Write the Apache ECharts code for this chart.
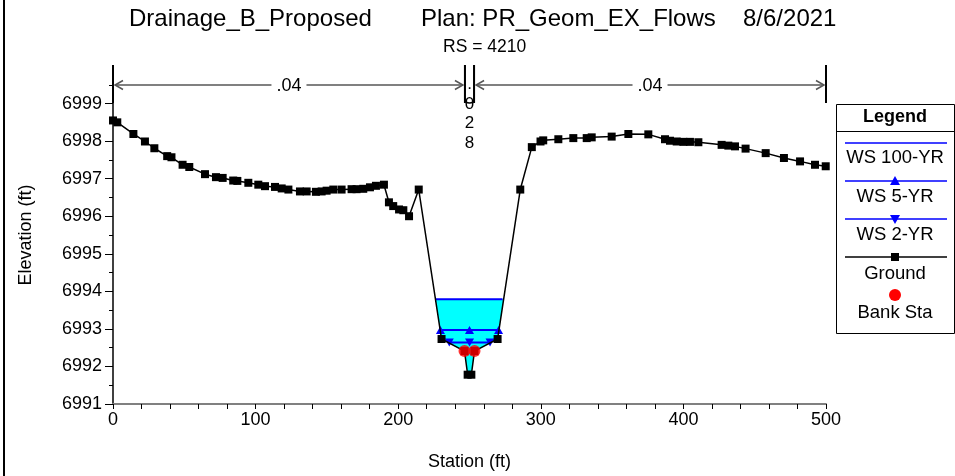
<!DOCTYPE html>
<html>
<head>
<meta charset="utf-8">
<script src="https://cdn.jsdelivr.net/npm/echarts@6/dist/echarts.min.js"></script>
<style>
  html, body { margin: 0; padding: 0; background: #fff; }
  #chart { width: 955px; height: 476px; }
</style>
</head>
<body>
<div id="chart"></div>
<script>
(function () {
  'use strict';

  var FONT = "'Liberation Sans', Arial, sans-serif";

  // ── Data ─────────────────────────────────────────────────────────────────
  var groundSt = [0, 3, 14.3, 22.4, 29, 38, 41, 48.8, 53.5, 64.5, 72.2, 76.9, 84.3, 87.2, 94.9,
    101.9, 106.6, 113.6, 118.3, 123, 131.1, 135.8, 142.3, 146.3, 149.8, 154.5, 160.3, 167.3,
    170.8, 175.5, 180.2, 184.4, 190, 193.5, 196.5, 200.6, 203.6, 207.6, 214.4, 230.4, 246.5,
    248.7, 251.3, 253.5, 269.7, 285.6, 293.7, 299.8, 301.7, 312.3, 322.8, 332.2, 335.7, 349.7,
    361.4, 375.4, 387.1, 390.6, 395.3, 400, 404.6, 410.5, 426.8, 431.5, 436.2, 443.6, 457.7,
    470.5, 481.8, 492.3, 499.8];
  var groundEl = [6998.55, 6998.50, 6998.19, 6997.99, 6997.81, 6997.60, 6997.57, 6997.37, 6997.31,
    6997.12, 6997.04, 6997.02, 6996.95, 6996.94, 6996.89, 6996.84, 6996.80, 6996.78, 6996.74,
    6996.71, 6996.66, 6996.66, 6996.65, 6996.66, 6996.68, 6996.71, 6996.71, 6996.72, 6996.72,
    6996.73, 6996.77, 6996.81, 6996.84, 6996.37, 6996.27, 6996.18, 6996.16, 6996.00, 6996.71,
    6992.73, 6992.41, 6991.78, 6991.78, 6992.41, 6992.73, 6996.71, 6997.84, 6997.99, 6998.02,
    6998.05, 6998.08, 6998.08, 6998.10, 6998.12, 6998.19, 6998.18, 6998.05, 6998.01, 6997.99,
    6997.98, 6997.98, 6997.97, 6997.90, 6997.88, 6997.86, 6997.80, 6997.68, 6997.55, 6997.46,
    6997.37, 6997.33];

  var ws100St = [226.5, 273.2];
  var ws100El = 6993.79;
  var ws5St = [229.6, 250.0, 270.4];
  var ws5El = 6992.97;
  var ws2St = [235.8, 250.0, 264.4];
  var ws2El = 6992.64;

  var bankSt = [246.5, 253.5];
  var bankEl = [6992.41, 6992.41];

  // Manning's n regions
  var nStart = [0, 246.8, 253.2];
  var nEnd = [246.8, 253.2, 500];
  var nLabels = ['.04', '.028', '.04'];

  var xTickLabels = [0, 100, 200, 300, 400, 500];
  var yTickLabels = [6991, 6992, 6993, 6994, 6995, 6996, 6997, 6998, 6999];

  var titleParts = ['Drainage_B_Proposed', 'Plan: PR_Geom_EX_Flows', '8/6/2021'];
  var subTitle = 'RS = 4210';

  var legendNames = ['WS 100-YR', 'WS 5-YR', 'WS 2-YR', 'Ground', 'Bank Sta'];

  var Y_MIN = 6991, Y_MAX = 7000;

  // ── Helpers ──────────────────────────────────────────────────────────────
  function zip(xs, ys) {
    return xs.map(function (x, i) { return [x, Array.isArray(ys) ? ys[i] : ys]; });
  }

  // ground below a water level -> polygon (in data units)
  function waterPolygon(level) {
    var pts = [];
    for (var i = 0; i < groundSt.length; i++) {
      var below = groundEl[i] < level;
      if (i > 0) {
        var prevBelow = groundEl[i - 1] < level;
        if (below !== prevBelow) {
          var t = (level - groundEl[i - 1]) / (groundEl[i] - groundEl[i - 1]);
          pts.push([groundSt[i - 1] + t * (groundSt[i] - groundSt[i - 1]), level]);
        }
      }
      if (below) pts.push([groundSt[i], groundEl[i]]);
    }
    return pts;
  }

  var waterPoly = waterPolygon(ws100El);

  // ── Legend (HEC-RAS style box) ───────────────────────────────────────────
  function buildLegend() {
    var L = 836, T = 104, W = 118, H = 229;
    var cx = L + W / 2, x1 = L + 9, x2 = L + W - 7;
    var els = [
      { type: 'rect', shape: { x: L + 0.5, y: T + 0.5, width: W, height: H },
        style: { fill: '#fff', stroke: '#000', lineWidth: 1 } },
      { type: 'text', x: cx, y: T + 13, style: { text: 'Legend', font: 'bold 18px ' + FONT,
        fill: '#000', align: 'center', verticalAlign: 'middle' } },
      { type: 'line', shape: { x1: L, y1: T + 27.5, x2: L + W, y2: T + 27.5 },
        style: { stroke: '#000', lineWidth: 1 } }
    ];
    var lineY = [143, 181, 219, 257, 295];
    var textY = [158, 197, 235, 274, 313];
    var colors = ['#0000ff', '#0000ff', '#0000ff', '#000', null];
    legendNames.forEach(function (name, i) {
      if (colors[i]) {
        els.push({ type: 'line', shape: { x1: x1, y1: lineY[i], x2: x2, y2: lineY[i] },
          style: { stroke: colors[i], lineWidth: 1.5 } });
      }
      if (i === 1) {
        els.push({ type: 'polygon', shape: { points: [[cx, lineY[i] - 5], [cx - 5, lineY[i] + 4], [cx + 5, lineY[i] + 4]] },
          style: { fill: '#0000ff' } });
      } else if (i === 2) {
        els.push({ type: 'polygon', shape: { points: [[cx, lineY[i] + 5], [cx - 5, lineY[i] - 4], [cx + 5, lineY[i] - 4]] },
          style: { fill: '#0000ff' } });
      } else if (i === 3) {
        els.push({ type: 'rect', shape: { x: cx - 4, y: lineY[i] - 4, width: 8, height: 8 },
          style: { fill: '#000' } });
      } else if (i === 4) {
        els.push({ type: 'circle', shape: { cx: cx, cy: lineY[i], r: 6 }, style: { fill: '#ff0000' } });
      }
      els.push({ type: 'text', x: cx, y: textY[i], style: { text: name, font: '18.5px ' + FONT,
        fill: '#000', align: 'center', verticalAlign: 'middle' } });
    });
    return els;
  }

  // ── Manning's n annotations ──────────────────────────────────────────────
  function renderNRegion(params, api) {
    var xa = api.coord([api.value(0), Y_MAX])[0];
    var xb = api.coord([api.value(1), Y_MAX])[0];
    var top = params.coordSys.y - 1;
    var label = nLabels[api.value(2)];
    var children = [];
    var bot = top + 38;
    if (xb - xa < 30) {
      var mid = (xa + xb) / 2;
      children.push({ type: 'path', shape: {
        pathData: 'M' + xa + ' ' + top + 'L' + xa + ' ' + (bot - 5) + 'Q' + xa + ' ' + bot + ' ' + mid + ' ' + bot +
          'Q' + xb + ' ' + bot + ' ' + xb + ' ' + (bot - 5) + 'L' + xb + ' ' + top },
        style: { stroke: '#000', lineWidth: 1.5, fill: null } });
      children.push({ type: 'text', x: mid, y: top + 10, style: { text: label.split('').join('\n'),
        font: '17px ' + FONT, lineHeight: 19.5, fill: '#000', align: 'center', verticalAlign: 'top' } });
    } else {
      var ly = top + 20;
      children.push({ type: 'line', shape: { x1: xa, y1: top, x2: xa, y2: bot },
        style: { stroke: '#000', lineWidth: 2 } });
      children.push({ type: 'line', shape: { x1: xb, y1: top, x2: xb, y2: bot },
        style: { stroke: '#000', lineWidth: 2 } });
      children.push({ type: 'line', shape: { x1: xa + 2, y1: ly, x2: xb - 2, y2: ly },
        style: { stroke: '#808080', lineWidth: 2 } });
      children.push({ type: 'polyline', shape: { points: [[xa + 10, ly - 4.5], [xa + 2, ly], [xa + 10, ly + 4.5]] },
        style: { stroke: '#555', lineWidth: 1.5, fill: null } });
      children.push({ type: 'polyline', shape: { points: [[xb - 10, ly - 4.5], [xb - 2, ly], [xb - 10, ly + 4.5]] },
        style: { stroke: '#555', lineWidth: 1.5, fill: null } });
      children.push({ type: 'text', x: (xa + xb) / 2, y: ly + 1, style: { text: label, font: '18px ' + FONT,
        fill: '#000', align: 'center', verticalAlign: 'middle', backgroundColor: '#fff', padding: [0, 5] } });
    }
    return { type: 'group', children: children };
  }

  // ── Chart ────────────────────────────────────────────────────────────────
  var chart = echarts.init(document.getElementById('chart'), null, { renderer: 'canvas' });

  var titleStyle = { fontFamily: FONT, fontSize: 24, fontWeight: 'normal', color: '#000' };
  var titleLeft = [129, 421, 743];

  var option = {
    animation: false,
    backgroundColor: '#fff',
    title: titleParts.map(function (t, i) {
      return { text: t, left: titleLeft[i], top: 7, padding: 0, textStyle: titleStyle };
    }).concat([{ text: subTitle, left: 443, top: 38, padding: 0,
      textStyle: { fontFamily: FONT, fontSize: 17.5, fontWeight: 'normal', color: '#000' } }]),
    grid: { left: 113, right: 129, top: 66, bottom: 71, containLabel: false },
    xAxis: {
      type: 'value', min: 0, max: 500, interval: 20,
      name: 'Station (ft)', nameLocation: 'middle', nameGap: 49,
      nameTextStyle: { fontFamily: FONT, fontSize: 18, color: '#000' },
      axisLine: { lineStyle: { color: '#808080', width: 2 } },
      axisTick: { length: 5, lineStyle: { color: '#000', width: 1 } },
      axisLabel: {
        margin: 7, fontFamily: FONT, fontSize: 18, color: '#000',
        formatter: function (v) { return xTickLabels.indexOf(v) >= 0 ? String(v) : ''; }
      },
      splitLine: { show: false }
    },
    yAxis: {
      type: 'value', min: Y_MIN, max: Y_MAX, interval: 1,
      name: 'Elevation (ft)', nameLocation: 'middle', nameGap: 78,
      nameTextStyle: { fontFamily: FONT, fontSize: 18, color: '#000' },
      axisLine: { show: true, lineStyle: { color: '#000', width: 1.5 } },
      axisTick: { show: true, length: 8, customValues: yTickLabels, lineStyle: { color: '#000' } },
      minorTick: { show: true, splitNumber: 2, length: 4, lineStyle: { color: '#000' } },
      axisLabel: {
        margin: 11, fontFamily: FONT, fontSize: 18, color: '#000', customValues: yTickLabels,
        formatter: function (v) { return yTickLabels.indexOf(v) >= 0 ? String(v) : ''; }
      },
      splitLine: { show: false }
    },
    graphic: [
      { type: 'rect', shape: { x: 3, y: 0, width: 2, height: 476 }, style: { fill: '#000' } }
    ].concat(buildLegend()),
    series: [
      {
        name: 'n values', type: 'custom', silent: true, z: 2,
        data: nStart.map(function (s, i) { return [s, nEnd[i], i]; }),
        renderItem: renderNRegion
      },
      {
        name: 'WS 100-YR fill', type: 'custom', silent: true, z: 1,
        data: [[ws100St[0], ws100El]],
        renderItem: function (params, api) {
          return { type: 'polygon', shape: { points: waterPoly.map(function (p) { return api.coord(p); }) },
            style: { fill: '#00ffff' } };
        }
      },
      {
        name: 'WS 100-YR', type: 'line', z: 4, data: zip(ws100St, ws100El),
        symbol: 'none', lineStyle: { color: '#0000ff', width: 2 }, itemStyle: { color: '#0000ff' }
      },
      {
        name: 'WS 5-YR', type: 'line', z: 4, data: zip(ws5St, ws5El),
        symbol: 'triangle', symbolSize: [9, 8], showAllSymbol: true,
        lineStyle: { color: '#0000ff', width: 2 }, itemStyle: { color: '#0000ff' }
      },
      {
        name: 'WS 2-YR', type: 'line', z: 4, data: zip(ws2St, ws2El),
        symbol: 'triangle', symbolRotate: 180, symbolSize: [9, 8], showAllSymbol: true,
        lineStyle: { color: '#0000ff', width: 2 }, itemStyle: { color: '#0000ff' }
      },
      {
        name: 'Ground', type: 'line', z: 5, data: zip(groundSt, groundEl),
        symbol: 'rect', symbolSize: 8, showAllSymbol: true,
        lineStyle: { color: '#000', width: 1.5 }, itemStyle: { color: '#000' }
      },
      {
        name: 'Bank Sta', type: 'scatter', z: 6, data: zip(bankSt, bankEl),
        symbol: 'circle', symbolSize: 12, itemStyle: { color: '#ff0000' }
      }
    ]
  };

  chart.setOption(option);
  window.addEventListener('resize', function () { chart.resize(); });
})();
</script>
</body>
</html>
